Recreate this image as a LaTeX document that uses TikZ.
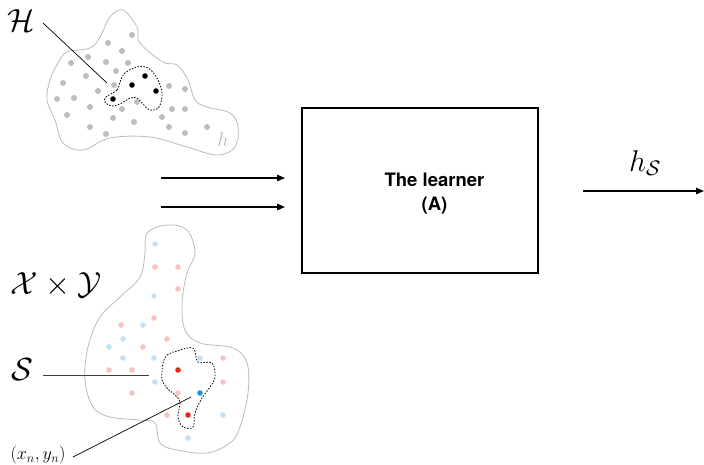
\RequirePackage{fix-cm}
\documentclass[tikz,border=0pt]{standalone}
\usepackage{fontspec}
\newfontfamily\hv{TeX Gyre Heros}
\usetikzlibrary{arrows.meta}
\definecolor{blobgray}{HTML}{BBBBBB}
\definecolor{dotgray}{HTML}{BDBDBD}
\definecolor{lred}{HTML}{F6C2C2}
\definecolor{lblue}{HTML}{BFE2F7}
\definecolor{sred}{HTML}{E8231C}
\definecolor{sblue}{HTML}{1E90E2}
\begin{document}
\begin{tikzpicture}[x=1pt,y=-1pt,
  blob/.style={draw=blobgray,line width=0.8pt},
  sub/.style={draw=black,dashed,dash pattern=on 1.5pt off 1.5pt,line width=0.8pt},
  bigmath/.style={font=\fontsize{32}{36}\selectfont},
  conn/.style={line width=1.3pt,-{Triangle[length=8pt,width=6.5pt]}},
  ptr/.style={line width=0.7pt}]
\useasboundingbox (0,0) rectangle (704,464);
% top blob
\draw[blob] plot[smooth cycle,tension=0.6] coordinates {
 (123,10) (137,27) (140,43) (163,62) (177,65) (188,80) (195,100) (207,107)
 (230,113) (238,127) (235,147) (217,155) (187,147) (150,137) (110,138)
 (83,150) (63,143) (55,120) (47,100) (50,80) (58,63) (67,52) (90,48) (100,37) (110,17)};
\foreach \p in {(132,35),(108,43),(122,51),(71,63),(88,57),(106,62),(128,63),(86,76),
 (116,71),(63,83),(98,91),(114,85),(57,99),(74,98),(90,107),(122,109),(137,102),
 (169,86),(185,89),(172,109),(185,109),(67,115),(113,118),(134,122),(162,117),
 (90,127),(106,134),(169,127),(207,127),(185,133)}
  \fill[dotgray] \p circle (3);
\draw[sub] plot[smooth cycle,tension=0.6] coordinates {
 (106,97) (117,90) (120,82) (125,73) (137,67) (148,68) (157,78) (162,93)
 (159,107) (150,110) (142,103) (137,98) (130,98) (122,103) (112,106) (105,102)};
\foreach \p in {(145,76),(132,85),(156,91),(113,99)}
  \fill[black] \p circle (2.8);
\node[bigmath,inner sep=0] (H) at (21,21) {$\mathcal{H}$};
\coordinate (Hend) at (107,83);
\draw[ptr] (43,23) -- (Hend);
\node[text=blobgray,font=\fontsize{20}{22}\selectfont,inner sep=0] (hl) at (223,140) {$h$};
% bottom blob
\draw[blob] plot[smooth cycle,tension=0.6] coordinates {
 (147,233) (167,225) (187,230) (195,253) (187,273) (182,303) (185,330) (200,343)
 (233,348) (247,363) (248,393) (240,427) (230,443) (207,453) (177,450) (160,443)
 (155,423) (140,420) (110,417) (93,407) (85,380) (88,347) (100,317) (120,297)
 (140,277) (145,253)};
\foreach \p in {(155,244),(154,296),(143,325),(123,339),(109,347),(123,358),(154,358),
 (200,358),(155,382),(223,415),(188,438)}
  \fill[lblue] \p circle (2.8);
\foreach \p in {(155,267),(178,267),(178,289),(154,318),(121,325),(167,339),(143,347),
 (109,370),(132,370),(223,358),(223,382),(132,393),(178,393),(167,415)}
  \fill[lred] \p circle (2.8);
\draw[sub] plot[smooth cycle,tension=0.6] coordinates {
 (163,363) (167,355) (177,351) (193,348) (198,362) (212,363) (215,377) (210,387)
 (202,398) (195,413) (193,427) (183,427) (178,417) (180,402) (175,395) (167,388)
 (162,380) (162,372)};
\fill[sred] (178,370) circle (2.8);
\fill[sred] (188,415) circle (2.8);
\fill[sblue] (200,393) circle (2.8);
\node[bigmath,inner sep=0] (XY) at (56,285) {$\mathcal{X}\times\mathcal{Y}$};
\node[bigmath,inner sep=0] (S) at (22,370) {$\mathcal{S}$};
\coordinate (Send) at (149,375);
\draw[ptr,draw=black!75] (43,375) -- (Send);
\node[font=\fontsize{18}{20}\selectfont,inner sep=0] (xn) at (38,455) {$(x_n,y_n)$};
\coordinate (xstart) at (73,457);
\coordinate (xend) at (191,397);
\draw[ptr] (xstart) -- (xend);
% learner
\node[draw,line width=1.3pt,minimum width=236pt,minimum height=165pt,inner sep=0] (L) at (420,190.5) {};
\node[font=\hv\bfseries\fontsize{18.5}{24}\selectfont,align=center,inner sep=0] (Lt) at (434.5,194)
  {The learner\\(A)};
\coordinate (a1s) at (161,178);
\coordinate (a1e) at (285,178);
\coordinate (a2s) at (161,207);
\coordinate (a2e) at (285,207);
\draw[conn] (a1s) -- (a1e);
\draw[conn] (a2s) -- (a2e);
\coordinate (os) at (583,191);
\coordinate (oe) at (704,191);
\draw[conn] (os) -- (oe);
\node[font=\fontsize{30}{32}\selectfont,inner sep=0] (hs) at (645,163) {$h_{\mathcal{S}}$};
\end{tikzpicture}
\end{document}
